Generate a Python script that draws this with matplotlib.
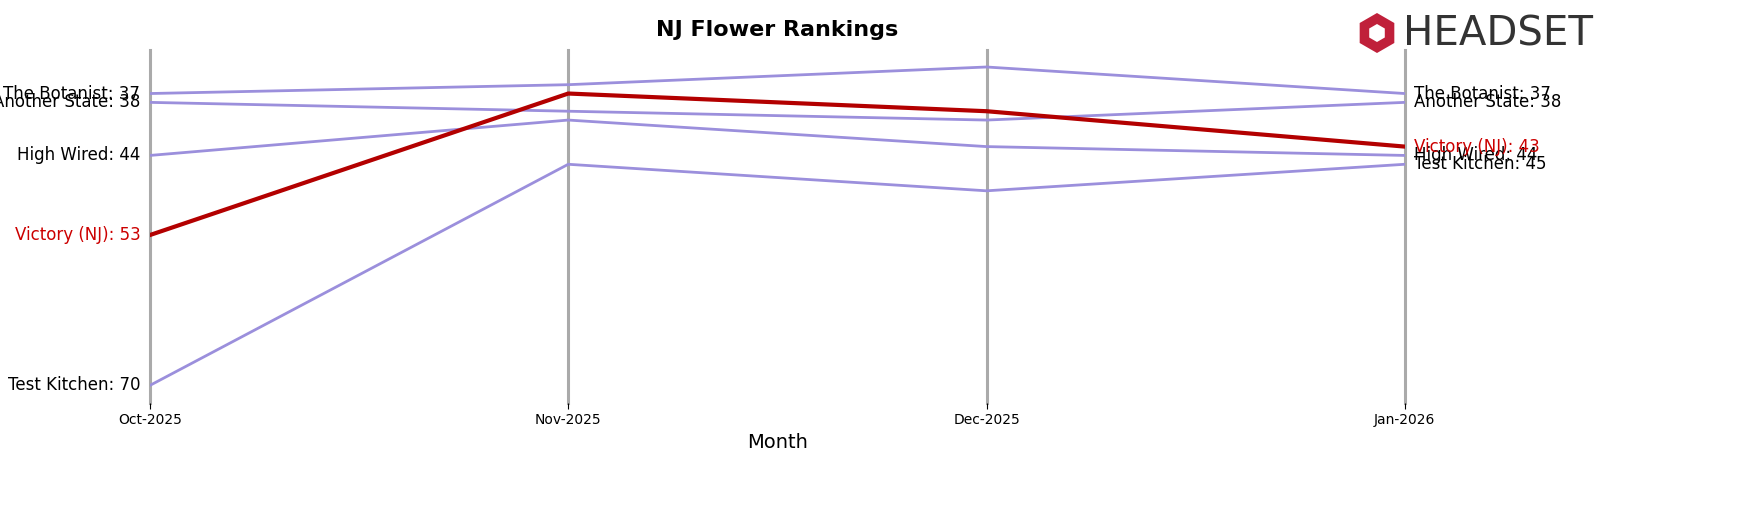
import matplotlib
matplotlib.use("Agg")
import matplotlib.pyplot as plt
from matplotlib.patches import RegularPolygon

months = ["Oct-2025", "Nov-2025", "Dec-2025", "Jan-2026"]
brands = ["The Botanist", "Another State", "High Wired", "Victory (NJ)", "Test Kitchen"]
ranks = {
    "The Botanist": [37, 36, 34, 37],
    "Another State": [38, 39, 40, 38],
    "High Wired": [44, 40, 43, 44],
    "Victory (NJ)": [53, 37, 39, 43],
    "Test Kitchen": [70, 45, 48, 45],
}
highlight = "Victory (NJ)"

fig = plt.figure(figsize=(17.56, 5.07), dpi=100)
ax = fig.add_axes([0.0854, 0.205, 0.7146, 0.696])
x = list(range(len(months)))
for b in brands:
    r = ranks[b]
    if b == highlight:
        ax.plot(x, r, color="#b30000", lw=3, zorder=3)
        c = "#cc0000"
    else:
        ax.plot(x, r, color="#9b8fdc", lw=2, zorder=2)
        c = "black"
    ax.text(-0.023, r[0], f"{b}: {r[0]}", ha="right", va="center", fontsize=12, color=c)
    ax.text(3.023, r[-1], f"{b}: {r[-1]}", ha="left", va="center", fontsize=12, color=c)

ax.set_xlim(0, 3)
ax.set_ylim(72.0, 32.1)
ax.set_xticks(x)
ax.set_xticklabels(months, fontsize=10)
ax.set_yticks([])
for xi in x:
    ax.axvline(xi, color="#aaaaaa", lw=2.2, zorder=1, clip_on=False)
for s in ax.spines.values():
    s.set_visible(False)
ax.tick_params(axis="x", length=4)
ax.set_xlabel("Month", fontsize=14)
ax.set_title("NJ Flower Rankings", fontsize=16, fontweight="bold", pad=10)

# logo
lax = fig.add_axes([1357/1756, 1-53/507, 40/1756, 40/507])
lax.set_xlim(-1, 1); lax.set_ylim(-1, 1); lax.axis("off")
lax.add_patch(RegularPolygon((0, 0), 6, radius=1, facecolor="#c0203a", edgecolor="none"))
lax.add_patch(RegularPolygon((0, 0), 6, radius=0.45, facecolor="white", edgecolor="none"))
fig.text(1403/1756, 1-34/507, "HEADSET", fontsize=29, color="#333333", va="center", ha="left",
         family="DejaVu Sans")
fig.savefig("out.png", dpi=100)
